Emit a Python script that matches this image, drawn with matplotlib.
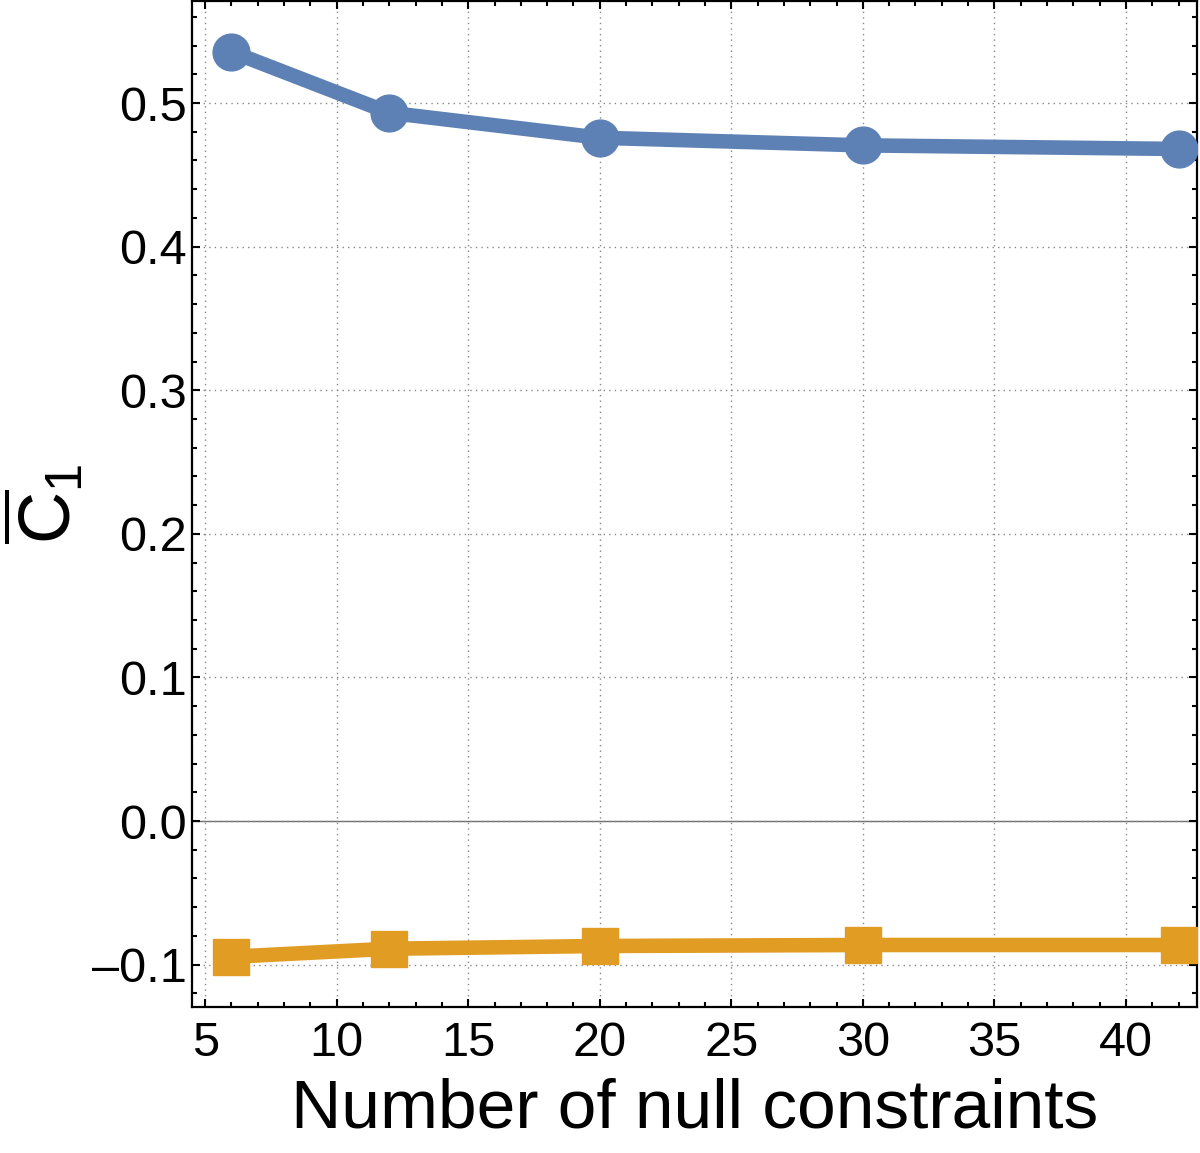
import matplotlib
matplotlib.use('Agg')
import matplotlib.pyplot as plt
from matplotlib.ticker import MultipleLocator, FuncFormatter

# donnees
n_constraints = [6, 12, 20, 30, 42]
c1_upper = [0.5357, 0.4932, 0.4758, 0.4705, 0.4680]
c1_lower = [-0.0945, -0.0889, -0.0870, -0.0863, -0.0863]

blue = '#5E81B5'
orange = '#E19C24'

plt.rcParams['font.family'] = ['Liberation Sans', 'DejaVu Sans']
plt.rcParams['mathtext.fontset'] = 'custom'
plt.rcParams['mathtext.rm'] = 'Liberation Sans'
plt.rcParams['mathtext.it'] = 'Liberation Sans'

fig = plt.figure(figsize=(12, 11.53), dpi=100)
ax = fig.add_axes([0.16, 0.1266, 0.8375, 0.8725])

ax.axhline(0, color='#6e6e6e', lw=1.0, zorder=1)
ax.plot(n_constraints, c1_upper, '-o', color=blue, lw=10.5, ms=26.5, zorder=3)
ax.plot(n_constraints, c1_lower, '-s', color=orange, lw=10.5, ms=26.5, zorder=3)

ax.set_xlim(4.5, 42.7)
ax.set_ylim(-0.1295, 0.571)

ax.xaxis.set_major_locator(MultipleLocator(5))
ax.xaxis.set_minor_locator(MultipleLocator(1))
ax.yaxis.set_major_locator(MultipleLocator(0.1))
ax.yaxis.set_minor_locator(MultipleLocator(0.02))
ax.yaxis.set_major_formatter(FuncFormatter(
    lambda v, p: ('%.1f' % v).replace('-', '\u2013') if abs(v) > 1e-9 else '0.0'))

ax.grid(True, which='major', color='#888888', ls=(0, (1, 3)), lw=1.0, zorder=0)

ax.tick_params(which='both', direction='in', top=True, right=True, width=1.5,
               labelsize=35, colors='black')
ax.tick_params(which='major', length=6)
ax.tick_params(which='minor', length=3.5)
ax.tick_params(axis='x', which='major', pad=10)
ax.tick_params(axis='y', which='major', pad=4)
for s in ax.spines.values():
    s.set_linewidth(1.6)

ax.set_xlabel('Number of null constraints', fontsize=50, labelpad=8)
ax.set_ylabel(r'$\overline{C}_1$', fontsize=52)
ax.yaxis.set_label_coords(-0.105, 0.5)

fig.savefig('out.png', dpi=100)
